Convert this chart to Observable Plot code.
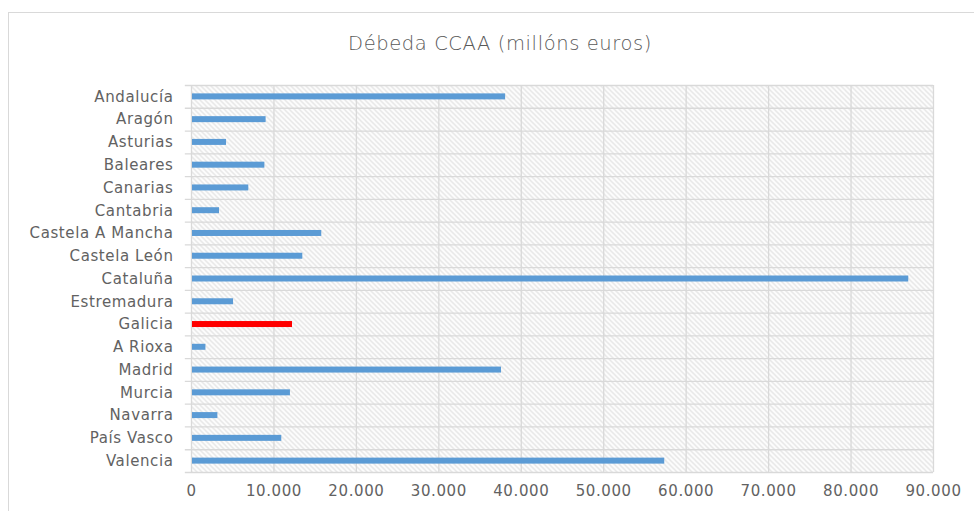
<!DOCTYPE html>
<html>
<head>
<meta charset="utf-8">
<script src="https://cdn.jsdelivr.net/npm/d3@7"></script>
<script src="https://cdn.jsdelivr.net/npm/@observablehq/plot@0.6"></script>
<style>
  html, body { margin: 0; padding: 0; background: #fff; overflow: hidden; }
  #frame { position: absolute; left: 8px; top: 12px; width: 990px; height: 520px; border: 1px solid #d9d9d9; }
  #title { position: absolute; left: 0; top: 32px; width: 1000px; text-align: center; font-family: "DejaVu Sans", sans-serif; font-weight: 300; font-size: 19.5px; color: #595959; letter-spacing: 0.6px; }
  #chart { position: absolute; left: 0; top: 0; }
  #chart svg text { letter-spacing: 0.6px; }
</style>
</head>
<body>
<div id="frame"></div>
<div id="title">Débeda CCAA (millóns euros)</div>
<div id="chart"></div>
<script>
const categories = ["Andalucía","Aragón","Asturias","Baleares","Canarias","Cantabria","Castela A Mancha","Castela León","Cataluña","Estremadura","Galicia","A Rioxa","Madrid","Murcia","Navarra","País Vasco","Valencia"];
const values = [38100, 9050, 4250, 8900, 6950, 3400, 15800, 13500, 87000, 5100, 12250, 1750, 37600, 12000, 3200, 10950, 57400];
const highlight = "Galicia";
const xTicks = [0,10000,20000,30000,40000,50000,60000,70000,80000,90000];

const data = categories.map((c, i) => ({name: c, value: values[i]}));

const W = 974, H = 511, mL = 191, mR = 41, mT = 85, mB = 39;
const bw = (H - mT - mB) / categories.length;
const locale = d3.formatLocale({decimal: ",", thousands: ".", grouping: [3], currency: ["", ""]});
const fmt = locale.format(",");

const grid = "#d9d9d9";
const plot = Plot.plot({
  width: W, height: H,
  marginLeft: mL, marginRight: mR, marginTop: mT, marginBottom: mB,
  style: {fontFamily: "DejaVu Sans, sans-serif", fontSize: "15px", color: "#626262", background: "transparent", overflow: "visible"},
  x: {domain: [0, 90000], ticks: xTicks, tickFormat: d => fmt(d), tickSize: 0, tickPadding: 13, label: null},
  y: {domain: categories, padding: 0, round: false, tickSize: 0, tickPadding: 18, label: null},
  marks: [
    Plot.frame({fill: "url(#hatch)", stroke: null}),
    Plot.ruleX(xTicks, {stroke: grid, strokeWidth: 1.3}),
    Plot.ruleY(categories, {y: d => d, x1: -750, x2: 90000, dy: -bw / 2, stroke: grid, strokeWidth: 1.3}),
    Plot.ruleY([categories[categories.length - 1]], {y: d => d, x1: -750, x2: 90000, dy: bw / 2, stroke: grid, strokeWidth: 1.3}),
    Plot.barX(data, {x: "value", y: "name", fill: d => d.name === highlight ? "#ff0000" : "#5b9bd5", insetTop: (bw - 6) / 2, insetBottom: (bw - 6) / 2, insetLeft: 1})
  ]
});

const svg = d3.select(plot);
const defs = svg.insert("defs", ":first-child");
const pat = defs.append("pattern").attr("id", "hatch").attr("patternUnits", "userSpaceOnUse").attr("width", 5).attr("height", 5);
pat.append("path").attr("d", "M-1,-1L6,6M-1,4L1,6M4,-1L6,1").attr("stroke", "#e0e0e0").attr("stroke-width", 1.3).attr("fill", "none");

document.getElementById("chart").appendChild(plot);
</script>
</body>
</html>
